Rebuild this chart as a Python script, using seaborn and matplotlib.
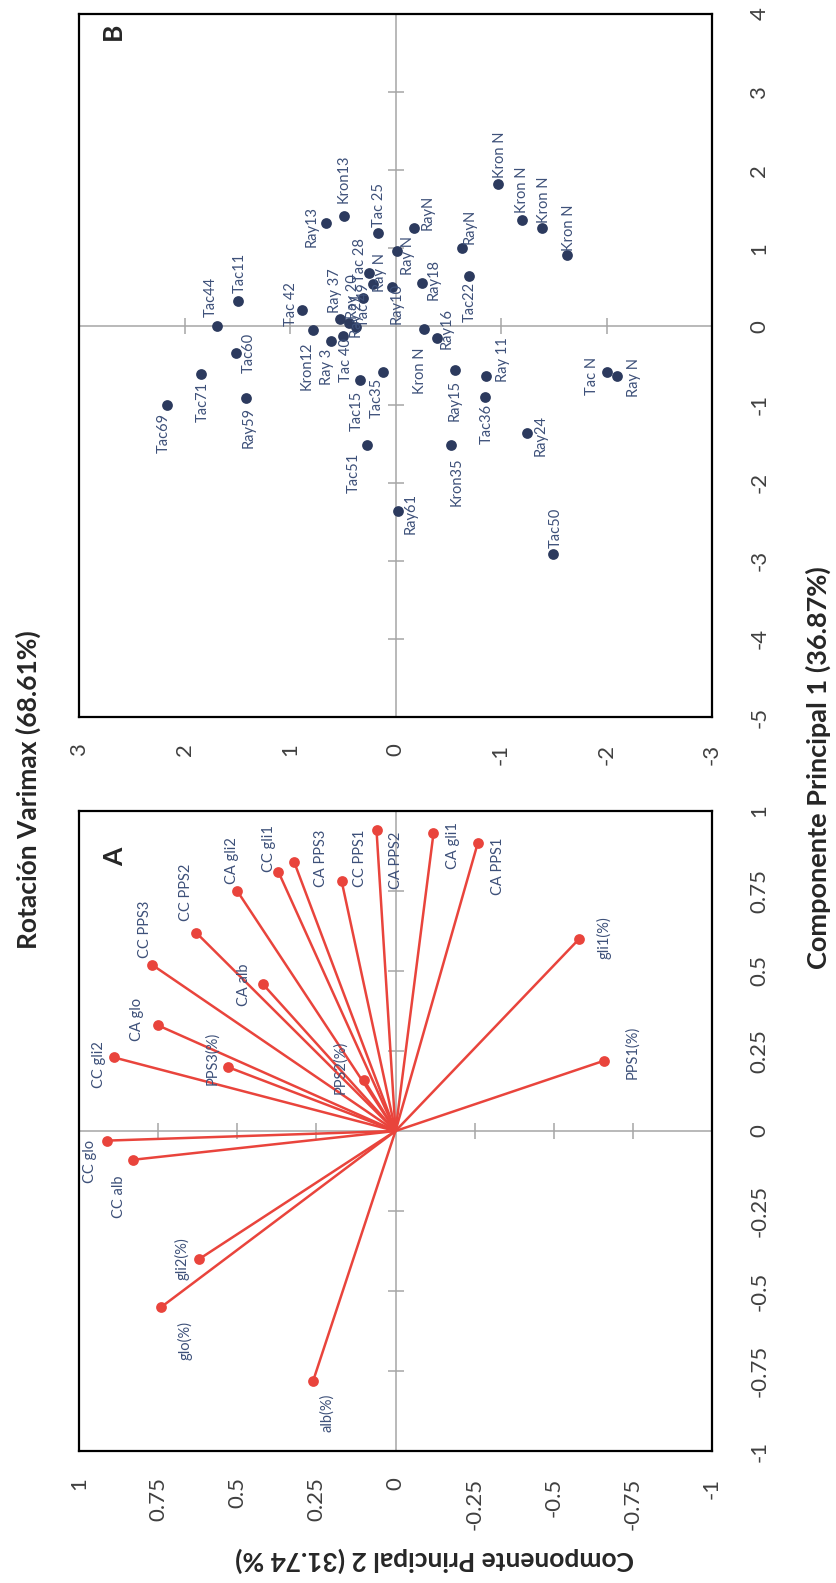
import matplotlib
matplotlib.use("Agg")
import matplotlib.pyplot as plt
import seaborn as sns
import pandas as pd

# ---------------- Panel A: variable loadings ----------------
var_names = ["CC glo", "CC alb", "CC gli2", "CA glo", "CC PPS3", "CC PPS2", "CA gli2",
             "CC gli1", "CA PPS3", "CC PPS1", "CA PPS2", "CA gli1", "CA PPS1", "CA alb",
             "PPS3(%)", "PPS2(%)", "gli1(%)", "PPS1(%)", "gli2(%)", "glo(%)", "alb(%)"]
var_pc1 = [-0.03, -0.09, 0.23, 0.33, 0.52, 0.62, 0.75, 0.81, 0.84, 0.78, 0.94, 0.93, 0.90,
           0.46, 0.20, 0.16, 0.60, 0.22, -0.40, -0.55, -0.78]
var_pc2 = [0.91, 0.83, 0.89, 0.75, 0.77, 0.63, 0.50, 0.37, 0.32, 0.17, 0.06, -0.12, -0.26,
           0.42, 0.53, 0.10, -0.58, -0.66, 0.62, 0.74, 0.26]

# ---------------- Panel B: observation scores ----------------
obs_names = ["Tac44", "Tac11", "Tac60", "Tac 42", "Kron12", "Ray13", "Kron13", "Tac 25",
             "RayN", "Ray N", "Ray18", "Tac22", "RayN", "Kron N", "Kron N", "Kron N", "Kron N",
             "Kron N", "Ray16", "Ray15", "Ray 11", "Tac36", "Ray24", "Kron35", "Tac50",
             "Tac N", "Ray N", "Ray61", "Tac51", "Tac15", "Tac35", "Tac69", "Tac71", "Ray59",
             "Ray 3", "Ray 37", "Ray 20", "Tac 49", "Tac 40", "Ray 21", "Tac 28", "Ray N", "Ray10"]
obs_pc1 = [0.00, 0.33, -0.34, 0.21, -0.04, 1.32, 1.42, 1.20,
           1.26, 0.97, 0.55, 0.65, 1.00, 1.82, 1.36, 1.26, 0.91,
           -0.03, -0.15, -0.56, -0.63, -0.90, -1.37, -1.52, -2.91,
           -0.58, -0.64, -2.36, -1.52, -0.68, -0.58, -1.00, -0.61, -0.91,
           -0.18, 0.10, 0.05, -0.01, -0.12, 0.37, 0.69, 0.54, 0.51]
obs_pc2 = [1.69, 1.49, 1.51, 0.89, 0.78, 0.66, 0.49, 0.17,
           -0.18, -0.01, -0.25, -0.70, -0.63, -0.97, -1.20, -1.39, -1.63,
           -0.27, -0.39, -0.56, -0.86, -0.85, -1.25, -0.53, -1.49,
           -2.00, -2.10, -0.02, 0.27, 0.34, 0.12, 2.17, 1.84, 1.42,
           0.61, 0.53, 0.44, 0.37, 0.50, 0.31, 0.25, 0.21, 0.03]

# ---------------- ticks ----------------
a_ticks = [-1, -0.75, -0.5, -0.25, 0, 0.25, 0.5, 0.75, 1]
a_tick_labels = ["-1", "-0.75", "-0.5", "-0.25", "0", "0.25", "0.5", "0.75", "1"]
b_pc1_ticks = [-5, -4, -3, -2, -1, 0, 1, 2, 3, 4]
b_pc1_labels = ["-5", "-4", "-3", "-2", "-1", "0", "1", "2", "3", "4"]
b_pc2_ticks = [-3, -2, -1, 0, 1, 2, 3]
b_pc2_labels = ["-3", "-2", "-1", "0", "1", "2", "3"]

# label offsets in screen pixels (right, down)
var_offsets = [(-17, 21), (-14, 37), (-15, 7), (-21, -6), (-7, -35), (-10, -40), (-5, -30),
               (-9, -23), (27, -4), (18, -23), (19, 30), (20, 12), (20, 23), (-19, 1),
               (-16, -9), (-24, -12), (25, -1), (28, -8), (-17, 0), (24, 34), (14, 32)]
obs_offsets = [(-6, -30), (1, -28), (13, 0), (-11, -6), (-7, 36), (-14, 3), (0, -37), (1, -28),
               (13, -16), (11, 5), (12, -4), (0, 26), (8, -22), (2, -30), (0, -30), (2, -28), (2, -28),
               (-4, 42), (10, -10), (0, 30), (17, -16), (2, 27), (13, 2), (5, 37), (3, -26),
               (-15, 4), (17, 1), (13, 3), (-13, 28), (-3, 31), (-6, 26), (-3, 28), (1, 28), (3, 30),
               (-4, 26), (-5, -28), (4, -26), (8, -22), (3, 24), (-6, 18), (-9, -12), (7, -12), (4, 17)]

RED = "#E9443C"
NAVY = "#2C3A5E"
LABEL = "#3D5079"
GRAY = "#A6A6A6"
TXT = "#262626"

sns.set_theme(style="white")
plt.rcParams["font.family"] = ["Lato", "DejaVu Sans"]

W, H = 837, 1583
fig = plt.figure(figsize=(W / 100, H / 100), dpi=100)


def frac(l, t, r, b):
    return [l / W, 1 - b / H, (r - l) / W, (b - t) / H]


axB = fig.add_axes(frac(79, 14, 712, 717))
axA = fig.add_axes(frac(79, 811, 712, 1451))


def style(ax, xt, xtl, yt, ytl, xlim, ylim):
    ax.set_xlim(*xlim)
    ax.set_ylim(*ylim)
    ax.axhline(0, color=GRAY, lw=1.1, zorder=1)
    ax.axvline(0, color=GRAY, lw=1.1, zorder=1)
    lo_x, hi_x = min(xlim), max(xlim)
    lo_y, hi_y = min(ylim), max(ylim)
    xin = [t for t in xt if t != 0 and lo_x < t < hi_x]
    yin = [t for t in yt if t != 0 and lo_y < t < hi_y]
    ax.plot(xin, [0] * len(xin), ls="none", marker="|", ms=12, mew=1.1, color=GRAY, zorder=1)
    ax.plot([0] * len(yin), yin, ls="none", marker="_", ms=12, mew=1.1, color=GRAY, zorder=1)
    ax.set_xticks(xt)
    ax.set_xticklabels(xtl, rotation=90, fontsize=16, color="#404040")
    ax.yaxis.tick_right()
    ax.set_yticks(yt)
    ax.set_yticklabels(ytl, rotation=90, fontsize=16, color="#404040")
    ax.tick_params(length=0)
    ax.tick_params(axis="x", pad=19)
    ax.tick_params(axis="y", pad=27)
    for lab in ax.get_xticklabels():
        lab.set_va("top")
        lab.set_ha("center")
    for lab in ax.get_yticklabels():
        lab.set_va("center")
        lab.set_ha("left")
    for s in ax.spines.values():
        s.set_color("black")
        s.set_linewidth(1.6)
        s.set_visible(True)
    ax.set_xlabel("")
    ax.set_ylabel("")
    ax.grid(False)


# ---------- Panel A ----------
dfA = pd.DataFrame({"name": var_names, "PC1": var_pc1, "PC2": var_pc2})
for x, y in zip(dfA["PC2"], dfA["PC1"]):
    axA.plot([0, x], [0, y], color=RED, lw=1.8, zorder=3, solid_capstyle="round")
sns.scatterplot(data=dfA, x="PC2", y="PC1", ax=axA, color=RED, s=60, edgecolor=RED,
                linewidth=0, zorder=4, legend=False)
for (n, x, y), (dx, dy) in zip(zip(dfA["name"], dfA["PC2"], dfA["PC1"]), var_offsets):
    axA.annotate(n, (x, y), xytext=(dx * 0.72, -dy * 0.72), textcoords="offset points",
                 rotation=90, ha="center", va="center", fontsize=10.5, color=LABEL, zorder=5)
style(axA, a_ticks, a_tick_labels, a_ticks, a_tick_labels, (1, -1), (-1, 1))
axA.text(0.057, 0.928, "A", transform=axA.transAxes, rotation=90, ha="center", va="center",
         fontsize=19, fontweight="bold", color=TXT)

# ---------- Panel B ----------
dfB = pd.DataFrame({"name": obs_names, "PC1": obs_pc1, "PC2": obs_pc2})
sns.scatterplot(data=dfB, x="PC2", y="PC1", ax=axB, color=NAVY, s=60, edgecolor=NAVY,
                linewidth=0, zorder=4, legend=False)
for (n, x, y), (dx, dy) in zip(zip(dfB["name"], dfB["PC2"], dfB["PC1"]), obs_offsets):
    axB.annotate(n, (x, y), xytext=(dx * 0.72, -dy * 0.72), textcoords="offset points",
                 rotation=90, ha="center", va="center", fontsize=10.5, color=LABEL, zorder=5)
style(axB, b_pc2_ticks, b_pc2_labels, b_pc1_ticks, b_pc1_labels, (3, -3), (-5, 4))
axB.text(0.054, 0.976, "B", transform=axB.transAxes, rotation=90, ha="center", va="center",
         fontsize=19, fontweight="bold", color=TXT)

# ---------- figure-level titles ----------
fig.text(28 / W, 1 - 790 / H, "Rotación Varimax (68.61%)", rotation=90, ha="center",
         va="center", fontsize=19, fontweight="bold", color=TXT)
fig.text(818 / W, 1 - 768 / H, "Componente Principal 1 (36.87%)", rotation=90, ha="center",
         va="center", fontsize=19.5, fontweight="bold", color=TXT)
fig.text(435 / W, 1 - 1560 / H, "Componente Principal 2 (31.74 %)", rotation=180, ha="center",
         va="center", fontsize=19, fontweight="bold", color=TXT)

fig.savefig("out.png", dpi=100)
